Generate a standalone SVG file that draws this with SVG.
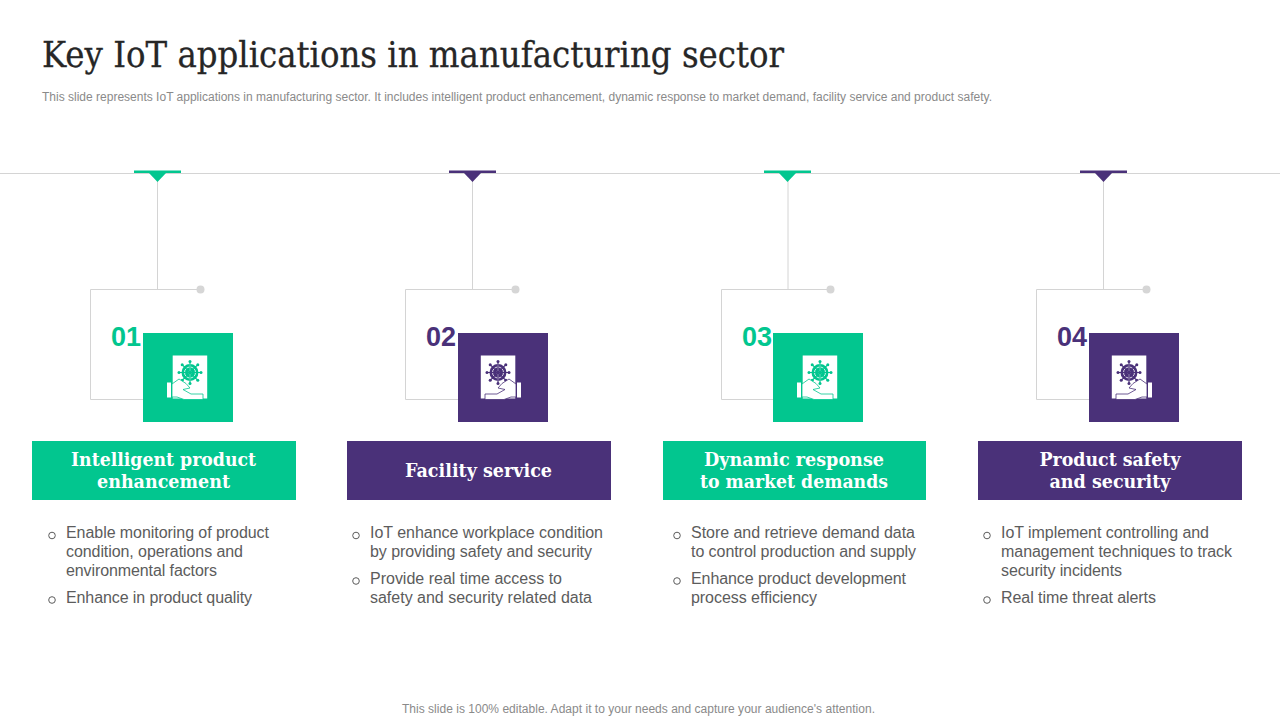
<svg xmlns="http://www.w3.org/2000/svg" width="1280" height="720" viewBox="0 0 1280 720">
<style>
.g{fill:#02c68f}.p{fill:#4a3179}
.cg{color:#02c68f}.cp{color:#4a3179}
.ln{fill:none;stroke:#d4d4d4;stroke-width:1}
.dot{fill:#d6d6d6}
.num{font:bold 27px "Liberation Sans",Arial,sans-serif}
.head{font:bold 18.5px "DejaVu Serif",Georgia,serif;fill:#fff;text-anchor:middle}
.body{font:16px "Liberation Sans",Arial,sans-serif;fill:#5c5c5c}
.bul{fill:none;stroke:#5c5c5c;stroke-width:1}
.small{font:12px "Liberation Sans",Arial,sans-serif;fill:#8a8a8a}
</style>
<defs>
<g id="icon">
<rect x="172.700" y="355.500" width="34.500" height="43" fill="#fff"/>
<circle cx="190" cy="372.500" r="8.500" fill="currentColor"/>
<circle cx="190" cy="372.500" r="5.500" fill="none" stroke="#fff" stroke-width="0.800"/>
<path d="M190 364V381M181.500 372.500H198.500" stroke="#fff" stroke-width="0.900"/>
<circle cx="190" cy="372.500" r="1.800" fill="#fff"/>
<path d="M190 361V384M178.500 372.500H201.500M181.900 364.400L198.100 380.600M198.100 364.400L181.900 380.600" stroke="currentColor" stroke-width="1.200"/>
<g fill="currentColor"><circle cx="190" cy="361.500" r="1.500"/><circle cx="190" cy="383.500" r="1.500"/><circle cx="179" cy="372.500" r="1.500"/><circle cx="201" cy="372.500" r="1.500"/><circle cx="182.200" cy="364.700" r="1.500"/><circle cx="197.800" cy="364.700" r="1.500"/><circle cx="182.200" cy="380.300" r="1.500"/><circle cx="197.800" cy="380.300" r="1.500"/></g>
<path d="M167 382.500H171V397.500H167Z" fill="#fff"/>
<path d="M172 384L179 379L186 383.500L190 388L183 389.500L191 394H203V399.500H184L177 397H172Z" fill="#fff" stroke="currentColor" stroke-width="0.800"/>
</g>
</defs>

<g id="title">
<text x="42" y="67" font-family="'DejaVu Serif',Georgia,serif" font-size="35" fill="#262626" stroke="#262626" stroke-width="0.300" textLength="742" lengthAdjust="spacingAndGlyphs">Key IoT applications in manufacturing sector</text>
<text x="42" y="101" class="small" textLength="950" lengthAdjust="spacingAndGlyphs">This slide represents IoT applications in manufacturing sector. It includes intelligent product enhancement, dynamic response to market demand, facility service and product safety.</text>
</g>

<g id="connectors">
<path class="ln" d="M0 173.500H1280"/>
<path class="ln" d="M157.500 175V289.500M472.500 175V289.500M788 175V289.500M1103.500 175V289.500"/>
<path class="ln" d="M200 289.500H90.500V399.500H143M515 289.500H405.500V399.500H458M830 289.500H721.500V399.500H773M1146 289.500H1036.500V399.500H1089"/>
</g>

<g id="node1">
<rect class="g" x="134" y="170.500" width="47" height="2.500"/><path class="g" d="M149 173H166L157.500 182Z"/>
<circle class="dot" cx="200.500" cy="289.500" r="4"/>
<text x="111" y="346" class="num g">01</text>
<rect class="g" x="143" y="333" width="90" height="89"/>
<use href="#icon" class="cg"/>
<rect class="g" x="32" y="441" width="264" height="59"/>
<text x="163.500" y="466" class="head" textLength="185" lengthAdjust="spacingAndGlyphs">Intelligent product</text>
<text x="163.500" y="488" class="head" textLength="133" lengthAdjust="spacingAndGlyphs">enhancement</text>
<circle class="bul" cx="52" cy="535.500" r="3.300"/>
<text x="66" y="538" class="body" textLength="203" lengthAdjust="spacing">Enable monitoring of product</text>
<text x="66" y="557" class="body" textLength="177" lengthAdjust="spacing">condition, operations and</text>
<text x="66" y="576" class="body" textLength="151" lengthAdjust="spacing">environmental factors</text>
<circle class="bul" cx="52" cy="600" r="3.300"/>
<text x="66" y="603" class="body" textLength="186" lengthAdjust="spacing">Enhance in product quality</text>
</g>

<g id="node2">
<rect class="p" x="449" y="170.500" width="47" height="2.500"/><path class="p" d="M464 173H481L472.500 182Z"/>
<circle class="dot" cx="515.500" cy="289.500" r="4"/>
<text x="426" y="346" class="num p">02</text>
<rect class="p" x="458" y="333" width="90" height="89"/>
<use href="#icon" class="cp" transform="translate(688 0) scale(-1 1)"/>
<rect class="p" x="347" y="441" width="264" height="59"/>
<text x="478.500" y="477" class="head" textLength="147" lengthAdjust="spacingAndGlyphs">Facility service</text>
<circle class="bul" cx="356" cy="535.500" r="3.300"/>
<text x="370" y="538" class="body" textLength="233" lengthAdjust="spacing">IoT enhance workplace condition</text>
<text x="370" y="557" class="body" textLength="222" lengthAdjust="spacing">by providing safety and security</text>
<circle class="bul" cx="356" cy="581" r="3.300"/>
<text x="370" y="584" class="body" textLength="192" lengthAdjust="spacing">Provide real time access to</text>
<text x="370" y="603" class="body" textLength="222" lengthAdjust="spacing">safety and security related data</text>
</g>

<g id="node3">
<rect class="g" x="764" y="170.500" width="47" height="2.500"/><path class="g" d="M779 173H796L787.500 182Z"/>
<circle class="dot" cx="830.500" cy="289.500" r="4"/>
<text x="742" y="346" class="num g">03</text>
<rect class="g" x="773" y="333" width="90" height="89"/>
<use href="#icon" class="cg" transform="translate(630 0)"/>
<rect class="g" x="663" y="441" width="263" height="59"/>
<text x="794" y="466" class="head" textLength="180" lengthAdjust="spacingAndGlyphs">Dynamic response</text>
<text x="794" y="488" class="head" textLength="188" lengthAdjust="spacingAndGlyphs">to market demands</text>
<circle class="bul" cx="677" cy="535.500" r="3.300"/>
<text x="691" y="538" class="body" textLength="224" lengthAdjust="spacing">Store and retrieve demand data</text>
<text x="691" y="557" class="body" textLength="225" lengthAdjust="spacing">to control production and supply</text>
<circle class="bul" cx="677" cy="581" r="3.300"/>
<text x="691" y="584" class="body" textLength="215" lengthAdjust="spacing">Enhance product development</text>
<text x="691" y="603" class="body" textLength="126" lengthAdjust="spacing">process efficiency</text>
</g>

<g id="node4">
<rect class="p" x="1080" y="170.500" width="47" height="2.500"/><path class="p" d="M1095 173H1112L1103.500 182Z"/>
<circle class="dot" cx="1146.500" cy="289.500" r="4"/>
<text x="1057" y="346" class="num p">04</text>
<rect class="p" x="1089" y="333" width="90" height="89"/>
<use href="#icon" class="cp" transform="translate(1319 0) scale(-1 1)"/>
<rect class="p" x="978" y="441" width="264" height="59"/>
<text x="1110" y="466" class="head" textLength="141" lengthAdjust="spacingAndGlyphs">Product safety</text>
<text x="1110" y="488" class="head" textLength="121" lengthAdjust="spacingAndGlyphs">and security</text>
<circle class="bul" cx="987" cy="535.500" r="3.300"/>
<text x="1001" y="538" class="body" textLength="208" lengthAdjust="spacing">IoT implement controlling and</text>
<text x="1001" y="557" class="body" textLength="231" lengthAdjust="spacing">management techniques to track</text>
<text x="1001" y="576" class="body" textLength="121" lengthAdjust="spacing">security incidents</text>
<circle class="bul" cx="987" cy="600" r="3.300"/>
<text x="1001" y="603" class="body" textLength="155" lengthAdjust="spacing">Real time threat alerts</text>
</g>

<text id="footer" x="402" y="713" class="small" textLength="473" lengthAdjust="spacing">This slide is 100% editable. Adapt it to your needs and capture your audience's attention.</text>
</svg>
